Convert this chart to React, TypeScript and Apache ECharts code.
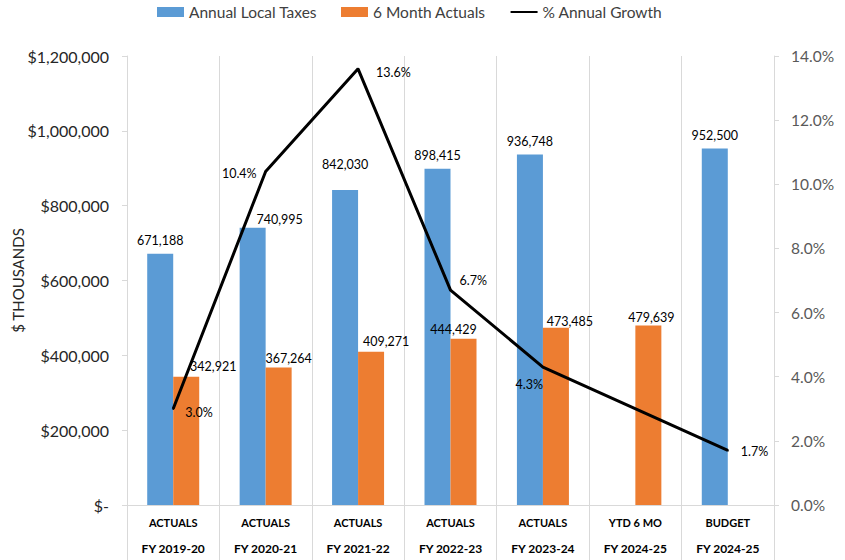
import React, { useEffect, useRef } from "react";
import * as echarts from "echarts";

const categories = [
  "ACTUALS\nFY 2019-20",
  "ACTUALS\nFY 2020-21",
  "ACTUALS\nFY 2021-22",
  "ACTUALS\nFY 2022-23",
  "ACTUALS\nFY 2023-24",
  "YTD 6 MO\nFY 2024-25",
  "BUDGET\nFY 2024-25",
];
const annualLocalTaxes = [671188, 740995, 842030, 898415, 936748, null, 952500];
const sixMonthActuals = [342921, 367264, 409271, 444429, 473485, 479639, null];
const annualGrowth = [3.0, 10.4, 13.6, 6.7, 4.3, null, 1.7];
const leftTicks = { min: 0, max: 1200000, interval: 200000 };
const rightTicks = { min: 0, max: 14, interval: 2 };

// label placement tweaks (offsets in px)
const blueOffsets = [[0, 0], [27, 5], [0, -12], [0, 0], [0, 0], [0, 0], [0, 0]];
const orangeOffsets = [[27, 3], [10, 4], [15, 3], [-10, 4], [14, 7], [3, 5], [0, 0]];
const growthLabelPos: any[] = [
  { position: "right", distance: 11, offset: [0, 4] },
  { position: "left", distance: 8, offset: [0, 2] },
  { position: "right", distance: 17, offset: [0, 4] },
  { position: "right", distance: 8, offset: [0, -10] },
  { position: "left", distance: 0, offset: [1, 17] },
  { position: "right", distance: 10, offset: [0, 0] },
  { position: "right", distance: 12, offset: [0, 1] },
];

const FONT = "Lato, 'Noto Sans', sans-serif";
const fmtNum = (v: number) => v.toLocaleString("en-US");

export default function App() {
  const ref = useRef<HTMLDivElement>(null);
  useEffect(() => {
    document.body.style.margin = "0";
    const chart = echarts.init(ref.current!, null, { renderer: "svg" });
    const option: any = {
      animation: false,
      textStyle: { fontFamily: FONT },
      legend: {
        left: 157,
        top: 4,
        padding: 0,
        itemWidth: 27,
        itemHeight: 10,
        itemGap: 24,
        textStyle: { fontSize: 15.5, color: "#404040", fontFamily: FONT },
        data: [
          { name: "Annual Local Taxes", icon: "rect" },
          { name: "6 Month Actuals", icon: "rect" },
          { name: "% Annual Growth", itemStyle: { opacity: 0 } },
        ],
      },
      grid: {
        left: 127,
        right: 71,
        top: 56,
        bottom: 55,
        containLabel: false,
        outerBoundsMode: "none",
      },
      xAxis: {
        type: "category",
        data: categories,
        boundaryGap: true,
        axisLine: { show: true, lineStyle: { color: "#d9d9d9", width: 1 } },
        axisTick: { show: true, length: 56, lineStyle: { color: "#d9d9d9" } },
        splitLine: { show: true, lineStyle: { color: "#d9d9d9", width: 1 } },
        axisLabel: {
          margin: 4,
          interval: 0,
          formatter: (v: string) => {
            const [a, b] = v.split("\n");
            return `{a|${a}}\n{b|${b}}`;
          },
          rich: {
            a: { fontSize: 11, fontWeight: "bold", color: "#000", lineHeight: 26, fontFamily: FONT },
            b: { fontSize: 12, fontWeight: "bold", color: "#000", lineHeight: 26, fontFamily: FONT },
          },
        },
      },
      yAxis: [
        {
          type: "value",
          min: leftTicks.min,
          max: leftTicks.max,
          interval: leftTicks.interval,
          name: "$ THOUSANDS",
          nameLocation: "middle",
          nameGap: 102,
          nameMoveOverlap: false,
          nameTextStyle: { fontSize: 15, color: "#262626", fontFamily: FONT },
          axisLine: { show: true, lineStyle: { color: "#d9d9d9" } },
          axisTick: { show: true, length: 5, lineStyle: { color: "#d9d9d9" } },
          splitLine: { show: false },
          axisLabel: {
            margin: 18,
            fontSize: 16,
            color: "#262626",
            fontFamily: FONT,
            formatter: (v: number) => (v === 0 ? "$-" : "$" + fmtNum(v)),
          },
        },
        {
          type: "value",
          min: rightTicks.min,
          max: rightTicks.max,
          interval: rightTicks.interval,
          position: "right",
          axisLine: { show: true, lineStyle: { color: "#d9d9d9" } },
          axisTick: { show: true, length: 5, lineStyle: { color: "#d9d9d9" } },
          splitLine: { show: false },
          axisLabel: {
            margin: 17,
            fontSize: 15.5,
            color: "#595959",
            fontFamily: FONT,
            formatter: (v: number) => v.toFixed(1) + "%",
          },
        },
      ],
      series: [
        {
          name: "Annual Local Taxes",
          type: "bar",
          barWidth: 26,
          barGap: "0%",
          itemStyle: { color: "#5B9BD5" },
          data: annualLocalTaxes.map((v, i) => ({
            value: v,
            label: { offset: blueOffsets[i] },
          })),
          label: {
            show: true,
            position: "top",
            distance: 7,
            fontSize: 12.5,
            color: "#000",
            fontFamily: FONT,
            formatter: (p: any) => fmtNum(p.value),
          },
        },
        {
          name: "6 Month Actuals",
          type: "bar",
          barWidth: 26,
          barGap: "0%",
          itemStyle: { color: "#ED7D31" },
          data: sixMonthActuals.map((v, i) => ({
            value: v,
            label: { offset: orangeOffsets[i] },
          })),
          label: {
            show: true,
            position: "top",
            distance: 7,
            fontSize: 12.5,
            color: "#000",
            fontFamily: FONT,
            formatter: (p: any) => fmtNum(p.value),
          },
        },
        {
          name: "% Annual Growth",
          type: "line",
          yAxisIndex: 1,
          connectNulls: true,
          symbol: "circle",
          symbolSize: 2,
          itemStyle: { color: "#000" },
          lineStyle: { color: "#000", width: 3 },
          data: annualGrowth.map((v, i) => ({
            value: v,
            label: growthLabelPos[i],
          })),
          label: {
            show: true,
            fontSize: 12.5,
            color: "#000",
            fontFamily: FONT,
            formatter: (p: any) => Number(p.value).toFixed(1) + "%",
          },
        },
      ],
    };
    chart.setOption(option);
    return () => chart.dispose();
  }, []);
  return (
    <div
      ref={ref}
      style={{ position: "absolute", left: 0, top: 0, width: 845, height: 560 }}
    />
  );
}
